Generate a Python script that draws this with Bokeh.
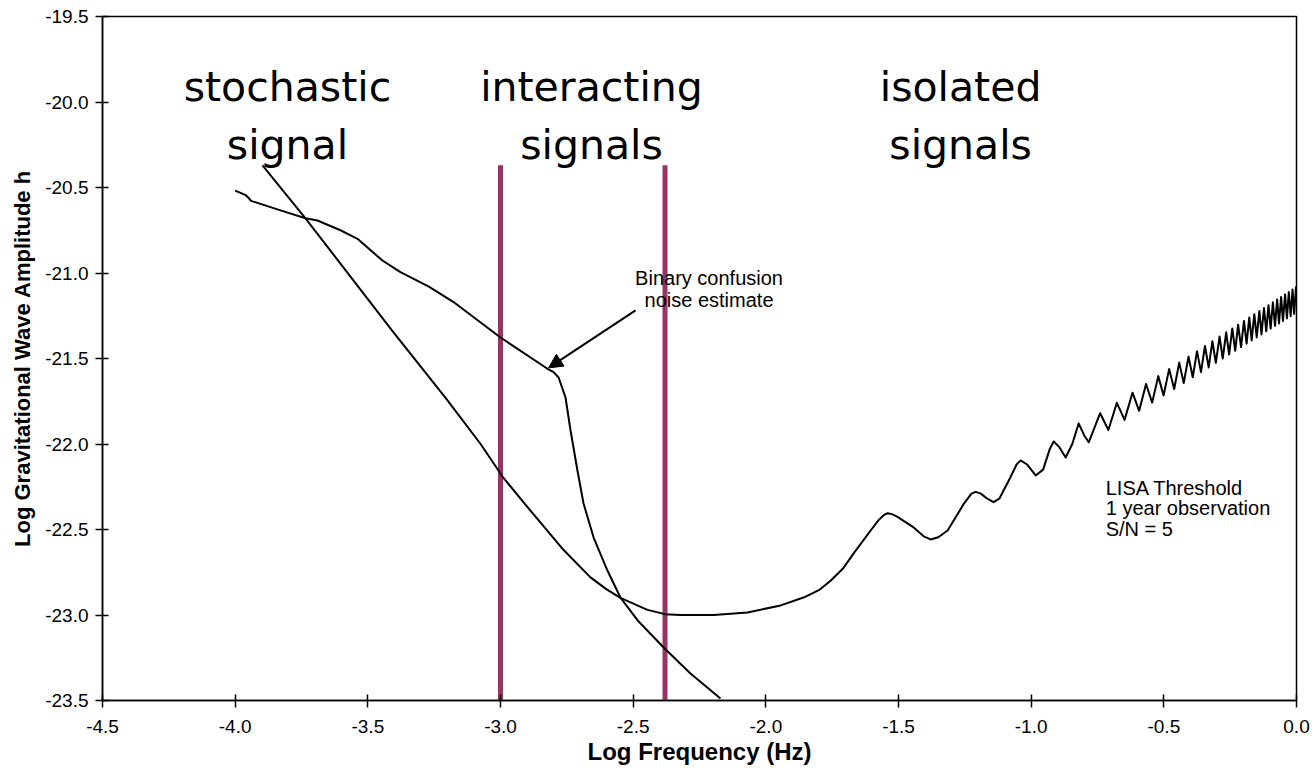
from bokeh.plotting import figure
from bokeh.models import Range1d, FixedTicker, Arrow, NormalHead
from bokeh.core.properties import value
from bokeh.embed import file_html
from bokeh.resources import INLINE

# ---------------- data ----------------
x_ticks = [-4.5, -4.0, -3.5, -3.0, -2.5, -2.0, -1.5, -1.0, -0.5, 0.0]
x_tick_labels = ["-4.5", "-4.0", "-3.5", "-3.0", "-2.5", "-2.0", "-1.5", "-1.0", "-0.5", "0.0"]
y_ticks = [-23.5, -23.0, -22.5, -22.0, -21.5, -21.0, -20.5, -20.0, -19.5]
y_tick_labels = ["-23.5", "-23.0", "-22.5", "-22.0", "-21.5", "-21.0", "-20.5", "-20.0", "-19.5"]

# LISA threshold, 1 year observation, S/N = 5
lisa_x = [-3.897, -3.735, -3.407, -3.207, -3.075, -2.988, -2.887, -2.762, -2.661, -2.600,
          -2.548, -2.446, -2.380, -2.321, -2.197, -2.069, -1.944, -1.858, -1.800, -1.756,
          -1.710, -1.669, -1.605, -1.575, -1.555, -1.541, -1.525, -1.505, -1.475, -1.443,
          -1.405, -1.379, -1.350, -1.315, -1.285, -1.254, -1.225, -1.209, -1.190, -1.165,
          -1.142, -1.120, -1.080, -1.055, -1.040, -1.015, -0.983, -0.955, -0.930, -0.915,
          -0.893, -0.870, -0.845, -0.821, -0.800, -0.783,
          -0.740, -0.709, -0.677, -0.648, -0.618, -0.593, -0.567, -0.544, -0.521, -0.501,
          -0.480, -0.461, -0.442, -0.425, -0.407, -0.391, -0.375, -0.360, -0.345, -0.331,
          -0.317, -0.304, -0.290, -0.278, -0.265, -0.254, -0.242, -0.231, -0.220, -0.209,
          -0.198, -0.188, -0.178, -0.169, -0.159, -0.150, -0.140, -0.132, -0.1225, -0.114,
          -0.1055, -0.0975, -0.089, -0.081, -0.073, -0.066, -0.058, -0.051, -0.043, -0.036,
          -0.029, -0.022, -0.015, -0.009, -0.002, 0.0]
lisa_y = [-20.37, -20.68, -21.34, -21.73, -22.00, -22.20, -22.39, -22.62, -22.78, -22.85,
          -22.90, -22.97, -22.995, -23.00, -23.00, -22.985, -22.944, -22.898, -22.855, -22.80,
          -22.73, -22.64, -22.506, -22.445, -22.415, -22.405, -22.41, -22.425, -22.455, -22.488,
          -22.54, -22.558, -22.545, -22.506, -22.43, -22.35, -22.29, -22.28, -22.29, -22.32,
          -22.34, -22.32, -22.20, -22.12, -22.096, -22.12, -22.184, -22.15, -22.03, -21.985,
          -22.02, -22.079, -22.00, -21.88, -21.95, -21.99,
          -21.82, -21.918, -21.759, -21.859, -21.700, -21.806, -21.649, -21.758, -21.603, -21.716,
          -21.562, -21.678, -21.524, -21.643, -21.489, -21.610, -21.457, -21.580, -21.427, -21.552,
          -21.399, -21.525, -21.372, -21.500, -21.347, -21.477, -21.324, -21.455, -21.302, -21.433,
          -21.280, -21.413, -21.260, -21.394, -21.241, -21.376, -21.222, -21.359, -21.205, -21.341,
          -21.188, -21.325, -21.171, -21.309, -21.155, -21.295, -21.140, -21.280, -21.125, -21.265,
          -21.111, -21.252, -21.097, -21.239, -21.084, -21.15]

# Binary confusion noise estimate
conf_x = [-4.0, -3.96, -3.95, -3.94, -3.829, -3.735, -3.690, -3.603, -3.539, -3.445,
          -3.377, -3.270, -3.177, -3.0, -2.823, -2.800, -2.781, -2.755, -2.736, -2.710,
          -2.687, -2.649, -2.597, -2.548, -2.483, -2.385, -2.284, -2.171]
conf_y = [-20.518, -20.545, -20.56, -20.578, -20.634, -20.68, -20.693, -20.75, -20.80, -20.927,
          -20.995, -21.08, -21.17, -21.377, -21.56, -21.58, -21.611, -21.728, -21.921, -22.155,
          -22.348, -22.547, -22.74, -22.898, -23.032, -23.19, -23.342, -23.488]

# Region boundaries (log frequency)
boundary_x = [-3.0, -2.38]
boundary_top = -20.37

# ---------------- figure ----------------
p = figure(width=1315, height=776, output_backend="svg", toolbar_location=None,
           x_range=Range1d(-4.5, 0.0), y_range=Range1d(-23.5, -19.5),
           min_border_left=102, min_border_right=19, min_border_top=16, min_border_bottom=76)
p.background_fill_color = "white"
p.border_fill_color = "white"
p.outline_line_color = "black"
p.outline_line_width = 1.5
p.xgrid.visible = False
p.ygrid.visible = False

tick_font = "Liberation Sans"
for ax, ticks, labels in ((p.xaxis[0], x_ticks, x_tick_labels), (p.yaxis[0], y_ticks, y_tick_labels)):
    ax.ticker = FixedTicker(ticks=ticks)
    ax.major_label_overrides = {t: l for t, l in zip(ticks, labels)}
    ax.minor_tick_line_color = None
    ax.major_tick_in = 6
    ax.major_tick_out = 7
    ax.major_tick_line_width = 1.5
    ax.axis_line_width = 1.5
    ax.major_label_text_font = tick_font
    ax.major_label_text_font_size = "19px"
    ax.major_label_text_color = "black"
    ax.axis_label_text_font = tick_font
    ax.axis_label_text_font_style = "bold"
    ax.axis_label_text_color = "black"

p.xaxis.axis_label = "Log Frequency (Hz)"
p.yaxis.axis_label = "Log Gravitational Wave Amplitude h"
p.xaxis.axis_label_text_font_size = "24px"
p.yaxis.axis_label_text_font_size = "22px"
p.xaxis.major_label_standoff = 12
p.yaxis.major_label_standoff = 7
p.xaxis.axis_label_standoff = 2
p.yaxis.axis_label_standoff = 7

# region boundaries
p.segment(x0=boundary_x, x1=boundary_x, y0=[-23.5] * len(boundary_x), y1=[boundary_top] * len(boundary_x),
          line_color="#993366", line_width=5, line_cap="butt")

# curves
p.line(conf_x, conf_y, line_color="black", line_width=2, line_join="round")
p.line(lisa_x, lisa_y, line_color="black", line_width=2, line_join="round")

# arrow to the confusion-noise knee
p.add_layout(Arrow(end=NormalHead(size=14, fill_color="black", line_color="black"),
                   x_start=-2.491, y_start=-21.219, x_end=conf_x[14] + 0.004, y_end=conf_y[14] + 0.005,
                   line_color="black", line_width=2))

# annotations
p.text(x=[-2.214, -2.214], y=[-21.03, -21.16], text=["Binary confusion", "noise estimate"],
       text_font=value("Liberation Sans"), text_font_size="20px", text_align="center",
       text_baseline="middle", text_color="black")
p.text(x=[-0.719, -0.719, -0.719], y=[-22.258, -22.377, -22.496],
       text=["LISA Threshold", "1 year observation", "S/N = 5"],
       text_font=value("Liberation Sans"), text_font_size="20px", text_align="left",
       text_baseline="middle", text_color="black")

big_x = [-3.803, -3.803, -2.657, -2.657, -1.266, -1.266]
big_y = [-19.915, -20.254, -19.915, -20.254, -19.915, -20.254]
big_t = ["stochastic", "signal", "interacting", "signals", "isolated", "signals"]
p.text(x=big_x, y=big_y, text=big_t, text_font=value("DejaVu Sans"), text_font_size="41px",
       text_align="center", text_baseline="alphabetic", text_color="black")

open("out.html", "w").write(file_html(p, INLINE))
